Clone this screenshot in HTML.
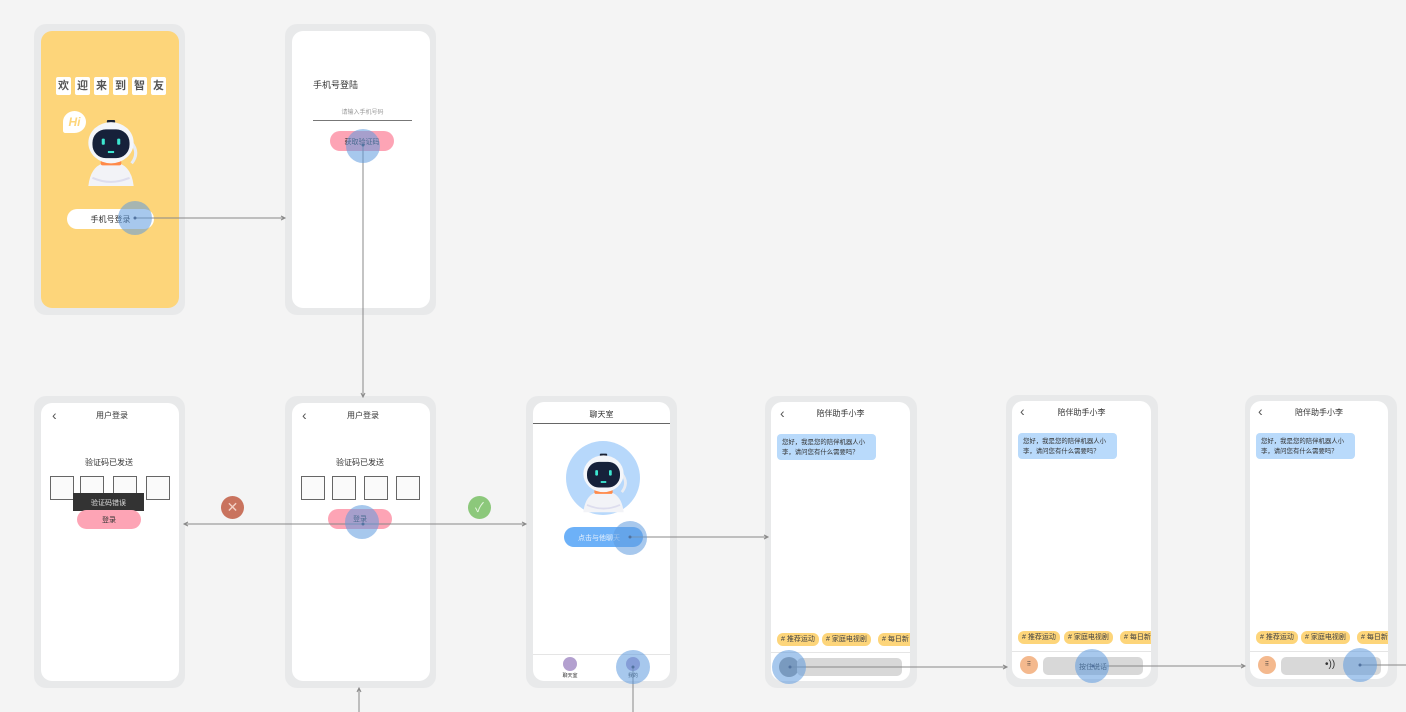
<!DOCTYPE html>
<html><head><meta charset="utf-8"><style>
*{margin:0;padding:0;box-sizing:border-box}
body{width:1406px;height:712px;background:#f4f4f4;position:relative;overflow:hidden;font-family:"Liberation Sans","Noto Sans CJK SC",sans-serif;color:#333}
.o{position:absolute;background:#e8e9ea;border-radius:12px}
.i{position:absolute;background:#fff;border-radius:11px;overflow:hidden}
.a{position:absolute}
.t{position:absolute;font-size:8px;text-align:center;white-space:nowrap}
.box{position:absolute;width:24px;height:24px;border:1px solid #666;background:#fafafa}
.tag{position:absolute;height:13px;background:#FDD57A;border-radius:6px;font-size:7px;line-height:13px;padding:0 4px;white-space:nowrap;color:#444}
.bub{position:absolute;background:#b9dafb;border-radius:4px;font-size:6.4px;line-height:10px;padding:4px 5px;color:#333;height:26px;overflow:hidden}
.touch{position:absolute;width:34px;height:34px;border-radius:50%;background:rgba(95,155,222,.55)}
</style></head><body>
<svg width="0" height="0" style="position:absolute"><defs>
<symbol id="rb" viewBox="0 0 60 66">
<path d="M8 66 Q10 48 22 44 L38 44 Q50 48 52 66Z" fill="#f2f3f7"/>
<path d="M12 58 Q30 66 48 58" stroke="#dde" fill="none" stroke-width="2"/>
<rect x="20" y="41" width="20" height="5" rx="2" fill="#ff8a4a"/>
<path d="M50 24 Q58 34 50 44" stroke="#e8ecf3" stroke-width="3" fill="none"/>
<rect x="26" y="2" width="8" height="4" rx="1" fill="#1b2234"/>
<ellipse cx="30" cy="24" rx="22" ry="20" fill="#f4f6fa"/>
<rect x="12" y="11" width="36" height="28" rx="13" fill="#16213a"/>
<rect x="21" y="20" width="3" height="6" rx="1" fill="#3de6d0"/>
<rect x="36" y="20" width="3" height="6" rx="1" fill="#3de6d0"/>
<rect x="27" y="32" width="6" height="2" fill="#3de6d0"/>
</symbol></defs></svg>

<!-- Row 1 -->
<div class="o" style="left:34px;top:24px;width:151px;height:291px"></div>
<div class="i" style="left:41px;top:31px;width:138px;height:277px;background:#FDD57A"></div>
<div class="a" style="left:56px;top:77px;display:flex;gap:4px">
<span style="background:#fff;width:15px;height:18px;font-size:11px;font-weight:bold;text-align:center;line-height:18px;border-radius:2px;color:#555">欢</span>
<span style="background:#fff;width:15px;height:18px;font-size:11px;font-weight:bold;text-align:center;line-height:18px;border-radius:2px;color:#555">迎</span>
<span style="background:#fff;width:15px;height:18px;font-size:11px;font-weight:bold;text-align:center;line-height:18px;border-radius:2px;color:#555">来</span>
<span style="background:#fff;width:15px;height:18px;font-size:11px;font-weight:bold;text-align:center;line-height:18px;border-radius:2px;color:#555">到</span>
<span style="background:#fff;width:15px;height:18px;font-size:11px;font-weight:bold;text-align:center;line-height:18px;border-radius:2px;color:#555">智</span>
<span style="background:#fff;width:15px;height:18px;font-size:11px;font-weight:bold;text-align:center;line-height:18px;border-radius:2px;color:#555">友</span>
</div>
<div class="a" style="left:63px;top:111px;width:23px;height:22px;background:#fff;border-radius:50% 50% 50% 10%;color:#FDD57A;font-weight:bold;font-style:italic;font-size:12px;text-align:center;line-height:22px">Hi</div>
<svg class="a" style="left:80px;top:118px" width="62" height="68"><use href="#rb"/></svg>
<div class="a" style="left:67px;top:209px;width:87px;height:20px;background:#fff;border-radius:10px"></div>
<div class="t" style="left:67px;top:214px;width:87px;color:#333">手机号登录</div>

<div class="o" style="left:285px;top:24px;width:151px;height:291px"></div>
<div class="i" style="left:292px;top:31px;width:138px;height:277px"></div>
<div class="a" style="left:313px;top:78px;font-size:9px;color:#333">手机号登陆</div>
<div class="t" style="left:313px;top:107px;width:99px;font-size:6px;color:#999">请输入手机号码</div>
<div class="a" style="left:313px;top:120px;width:99px;height:1px;background:#777"></div>
<div class="a" style="left:330px;top:131px;width:64px;height:20px;background:#fda4b5;border-radius:10px"></div>
<div class="t" style="left:330px;top:137px;width:64px;font-size:7px">获取验证码</div>

<!-- Row 2 frame 1 -->
<div class="o" style="left:34px;top:396px;width:151px;height:292px"></div>
<div class="i" style="left:41px;top:403px;width:138px;height:278px"></div>
<div class="a" style="left:52px;top:407px;font-size:14px;color:#555">&lsaquo;</div>
<div class="t" style="left:41px;top:410px;width:142px">用户登录</div>
<div class="t" style="left:41px;top:457px;width:136px">验证码已发送</div>
<div class="box" style="left:50px;top:476px"></div><div class="box" style="left:80px;top:476px"></div><div class="box" style="left:113px;top:476px"></div><div class="box" style="left:146px;top:476px"></div>
<div class="a" style="left:73px;top:493px;width:71px;height:18px;background:#333"></div>
<div class="t" style="left:73px;top:498px;width:71px;color:#ddd;font-size:7px">验证码错误</div>
<div class="a" style="left:77px;top:510px;width:64px;height:19px;background:#fda4b5;border-radius:10px"></div>
<div class="t" style="left:77px;top:515px;width:64px;font-size:7px">登录</div>

<!-- Row 2 frame 2 -->
<div class="o" style="left:285px;top:396px;width:151px;height:292px"></div>
<div class="i" style="left:292px;top:403px;width:138px;height:278px"></div>
<div class="a" style="left:302px;top:407px;font-size:14px;color:#555">&lsaquo;</div>
<div class="t" style="left:292px;top:410px;width:142px">用户登录</div>
<div class="t" style="left:292px;top:457px;width:136px">验证码已发送</div>
<div class="box" style="left:301px;top:476px"></div><div class="box" style="left:332px;top:476px"></div><div class="box" style="left:364px;top:476px"></div><div class="box" style="left:396px;top:476px"></div>
<div class="a" style="left:328px;top:509px;width:64px;height:20px;background:#fda4b5;border-radius:10px"></div>
<div class="t" style="left:328px;top:514px;width:64px;font-size:7px">登录</div>

<!-- Chat room -->
<div class="o" style="left:526px;top:396px;width:151px;height:292px"></div>
<div class="i" style="left:533px;top:402px;width:137px;height:279px"></div>
<div class="t" style="left:533px;top:409px;width:137px">聊天室</div>
<div class="a" style="left:533px;top:423px;width:137px;height:1px;background:#666"></div>
<div class="a" style="left:566px;top:441px;width:74px;height:74px;border-radius:50%;background:#b7d8fb"></div>
<svg class="a" style="left:576px;top:450px" width="55" height="64"><use href="#rb"/></svg>
<div class="a" style="left:564px;top:527px;width:79px;height:20px;background:#6db1f8;border-radius:10px"></div>
<div class="t" style="left:564px;top:533px;width:70px;color:#e6f0fb;font-size:7px">点击与他聊天</div>
<div class="a" style="left:533px;top:654px;width:137px;height:1px;background:#e5e5e5"></div>
<div class="a" style="left:563px;top:657px;width:14px;height:14px;border-radius:50%;background:#b3a0cf"></div>
<div class="t" style="left:555px;top:672px;width:30px;font-size:5px">聊天室</div>
<div class="a" style="left:626px;top:657px;width:14px;height:14px;border-radius:50%;background:#b3a0cf"></div>
<div class="t" style="left:618px;top:672px;width:30px;font-size:5px">我的</div>

<!-- Chat frames -->
<div class="o" style="left:765px;top:396px;width:152px;height:292px"></div>
<div class="i" style="left:771px;top:402px;width:139px;height:279px"></div>
<div class="a" style="left:780px;top:405px;font-size:14px;color:#555">&lsaquo;</div>
<div class="t" style="left:771px;top:408px;width:139px">陪伴助手小李</div>
<div class="bub" style="left:777px;top:434px;width:99px">您好，我是您的陪伴机器人小李，请问您有什么需要吗？</div>
<div class="tag" style="left:777px;top:633px">#&nbsp;推荐运动</div>
<div class="tag" style="left:822px;top:633px">#&nbsp;家庭电视剧</div>
<div class="tag" style="left:878px;top:633px;width:32px;overflow:hidden;border-radius:6px 0 0 6px">#&nbsp;每日新</div>
<div class="a" style="left:771px;top:652px;width:139px;height:1px;background:#e5e5e5"></div>
<div class="a" style="left:779px;top:657px;width:20px;height:20px;border-radius:50%;background:#999"></div>
<div class="a" style="left:797px;top:658px;width:105px;height:18px;border-radius:5px;background:#d8d8d8"></div>

<div class="o" style="left:1006px;top:395px;width:152px;height:292px"></div>
<div class="i" style="left:1012px;top:401px;width:139px;height:278px"></div>
<div class="a" style="left:1020px;top:403px;font-size:14px;color:#555">&lsaquo;</div>
<div class="t" style="left:1012px;top:407px;width:139px">陪伴助手小李</div>
<div class="bub" style="left:1018px;top:433px;width:99px">您好，我是您的陪伴机器人小李，请问您有什么需要吗？</div>
<div class="tag" style="left:1018px;top:631px">#&nbsp;推荐运动</div>
<div class="tag" style="left:1064px;top:631px">#&nbsp;家庭电视剧</div>
<div class="tag" style="left:1120px;top:631px;width:31px;overflow:hidden;border-radius:6px 0 0 6px">#&nbsp;每日新</div>
<div class="a" style="left:1012px;top:651px;width:139px;height:1px;background:#e5e5e5"></div>
<div class="a" style="left:1020px;top:656px;width:18px;height:18px;border-radius:50%;background:#f4b98e;font-size:6px;text-align:center;line-height:18px">⠿</div>
<div class="a" style="left:1043px;top:657px;width:100px;height:18px;border-radius:5px;background:#d8d8d8"></div>
<div class="t" style="left:1043px;top:662px;width:100px;font-size:7px">按住说话</div>

<div class="o" style="left:1245px;top:395px;width:152px;height:292px"></div>
<div class="i" style="left:1250px;top:401px;width:138px;height:278px"></div>
<div class="a" style="left:1258px;top:403px;font-size:14px;color:#555">&lsaquo;</div>
<div class="t" style="left:1250px;top:407px;width:138px">陪伴助手小李</div>
<div class="bub" style="left:1256px;top:433px;width:99px">您好，我是您的陪伴机器人小李，请问您有什么需要吗？</div>
<div class="tag" style="left:1256px;top:631px">#&nbsp;推荐运动</div>
<div class="tag" style="left:1301px;top:631px">#&nbsp;家庭电视剧</div>
<div class="tag" style="left:1357px;top:631px;width:31px;overflow:hidden;border-radius:6px 0 0 6px">#&nbsp;每日新</div>
<div class="a" style="left:1250px;top:651px;width:138px;height:1px;background:#e5e5e5"></div>
<div class="a" style="left:1258px;top:656px;width:18px;height:18px;border-radius:50%;background:#f4b98e;font-size:6px;text-align:center;line-height:18px">⠿</div>
<div class="a" style="left:1281px;top:657px;width:100px;height:18px;border-radius:5px;background:#d8d8d8"></div>
<div class="a" style="left:1325px;top:659px;font-size:10px;color:#333">•))</div>

<!-- status icons -->
<div class="a" style="left:221px;top:496px;width:23px;height:23px;border-radius:50%;background:#c9735e;color:#f3d0c6;font-size:14px;text-align:center;line-height:23px">✕</div>
<div class="a" style="left:468px;top:496px;width:23px;height:23px;border-radius:50%;background:#8cc87b;color:#e5f5df;font-size:13px;text-align:center;line-height:23px">✓</div>

<!-- connectors -->
<svg class="a" style="left:0;top:0" width="1406" height="712">
<g stroke="#888" stroke-width="1" fill="none">
<path d="M135 218H285M281 216L285 218L281 220"/>
<path d="M363 145V397M361 393L363 397L365 393"/>
<path d="M363 524H184M188 522L184 524L188 526"/>
<path d="M363 524H526M522 522L526 524L522 526"/>
<path d="M630 537H768M764 535L768 537L764 539"/>
<path d="M790 667H1007M1003 665L1007 667L1003 669"/>
<path d="M1093 666H1245M1241 664L1245 666L1241 668"/>
<path d="M1360 665H1406"/>
<path d="M359 712V688M357 692L359 688L361 692"/>
<path d="M633 667V712"/>
</g>
<g fill="#445">
<circle cx="135" cy="218" r="1.5"/><circle cx="363" cy="145" r="1.5"/><circle cx="363" cy="524" r="1.5"/><circle cx="630" cy="537" r="1.5"/><circle cx="633" cy="667" r="1.5"/><circle cx="790" cy="667" r="1.5"/><circle cx="1093" cy="666" r="1.5"/><circle cx="1360" cy="665" r="1.5"/>
</g>
</svg>
<div class="touch" style="left:118px;top:201px"></div>
<div class="touch" style="left:346px;top:129px"></div>
<div class="touch" style="left:345px;top:505px"></div>
<div class="touch" style="left:613px;top:521px"></div>
<div class="touch" style="left:616px;top:650px"></div>
<div class="touch" style="left:772px;top:650px"></div>
<div class="touch" style="left:1075px;top:649px"></div>
<div class="touch" style="left:1343px;top:648px"></div>
</body></html>
